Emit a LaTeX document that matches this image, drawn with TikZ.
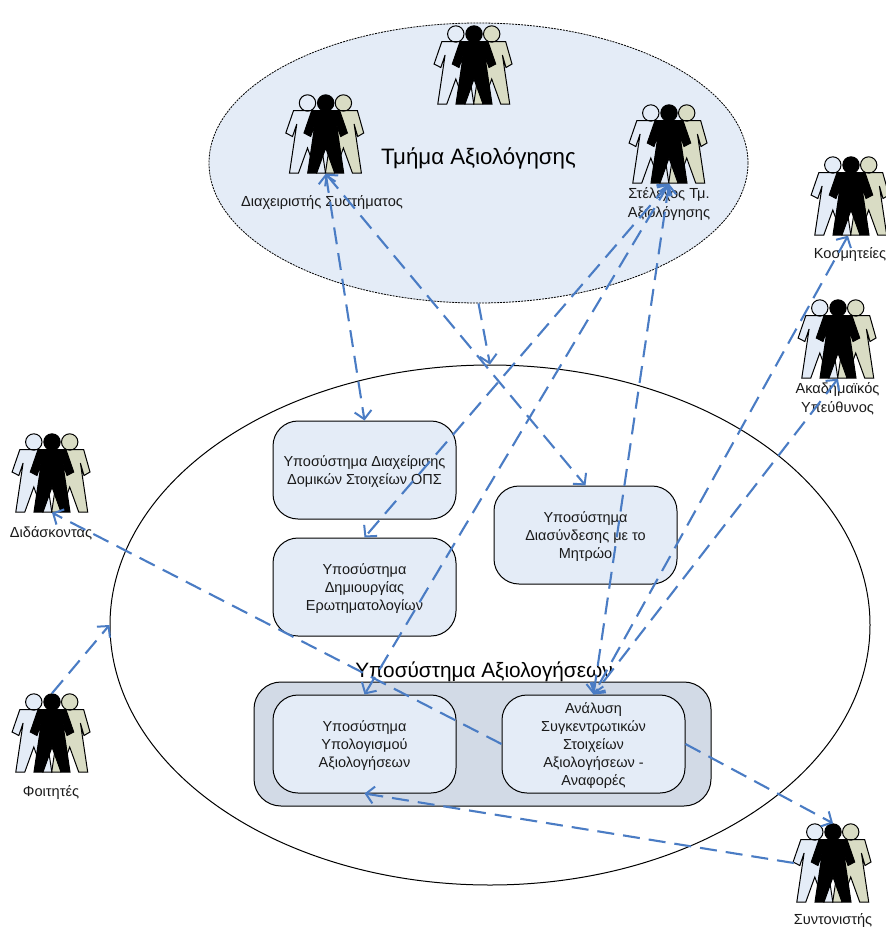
\documentclass[tikz,border=0pt]{standalone}
\usepackage{fontspec}
\setmainfont{Liberation Sans}
\usetikzlibrary{arrows.meta,shapes.geometric}
\definecolor{lightfill}{HTML}{E4ECF7}
\definecolor{midfill}{HTML}{D2DAE6}
\definecolor{olivefill}{HTML}{D9DCC4}
\definecolor{linkblue}{HTML}{4A7CC4}
\definecolor{inktext}{HTML}{1A1A1A}
\newcommand{\tfirst}{\rule{0pt}{14pt}}
\tikzset{
  boxnode/.style={draw=black,line width=1pt,fill=lightfill,rounded corners=25pt,minimum width=183pt,minimum height=98pt,inner sep=0pt,align=center,text=inktext,font=\fontsize{14.5pt}{17.8pt}\selectfont},
  labeltext/.style={align=center,text=inktext,inner sep=0pt,font=\fontsize{14.6pt}{18.6pt}\selectfont},
  bigtext/.style={text=black,inner sep=0pt},
  personbox/.style={minimum width=78pt,minimum height=79pt,inner sep=0pt},
  link/.style={draw=linkblue,line width=2.1pt,dash pattern=on 17pt off 9pt},
  uni/.style={link,-{Straight Barb[length=8pt,width=17pt,line width=2pt]}},
  bi/.style={link,{Straight Barb[length=8pt,width=17pt,line width=2pt]}-{Straight Barb[length=8pt,width=17pt,line width=2pt]}},
}
\newcommand{\figperson}[3]{%
  \begin{scope}[shift={(#2,#3)}]
    \path[draw=black,line width=1pt,fill=lightfill]
      (-18.2,0) circle[radius=8.2]
      (-32.2,7.7) -- (-39.9,30) -- (-33.2,33.5) -- (-28.9,21) -- (-36.2,70) -- (-27.2,70) -- (-18.2,45)
      -- (-9.2,70) -- (-0.2,70) -- (-7.5,21) -- (-3.2,33.5) -- (3.5,30) -- (-4.2,7.7) -- cycle;
    \path[draw=black,line width=1pt,fill=olivefill]
      (17.7,0) circle[radius=8.2]
      (3.7,7.7) -- (-4,30) -- (2.7,33.5) -- (7,21) -- (-0.3,70) -- (8.7,70) -- (17.7,45)
      -- (26.7,70) -- (35.7,70) -- (28.4,21) -- (32,33.5) -- (38,30) -- (31.7,7.7) -- cycle;
    \path[draw=black,line width=1pt,fill=black]
      (0,0) circle[radius=8.2]
      (-14,7.7) -- (-21.7,30) -- (-15,33.5) -- (-10.7,21) -- (-18,70) -- (-9,70) -- (0,45)
      -- (9,70) -- (18,70) -- (10.7,21) -- (15,33.5) -- (21.7,30) -- (14,7.7) -- cycle;
    \node[personbox] (#1) at (0,31) {};
  \end{scope}}
\begin{document}
\begin{tikzpicture}[x=1pt,y=-1pt]
\useasboundingbox (0,0) rectangle (886,927);
% containers
\node[ellipse,draw=black,line width=0.8pt,dash pattern=on 2pt off 1pt,fill=lightfill,minimum width=539pt,minimum height=280pt,inner sep=0pt] (dept) at (478.5,163) {};
\node[ellipse,draw=black,line width=1pt,fill=white,minimum width=760pt,minimum height=520pt,inner sep=0pt] (big) at (490,625) {};
\node[draw=black,line width=1pt,fill=midfill,rounded corners=27pt,minimum width=457pt,minimum height=124pt,inner sep=0pt] (group) at (482.5,744) {};
% boxes
\node[boxnode] (structure) at (364.5,470) {\tfirst Υποσύστημα Διαχείρισης\\Δομικών Στοιχείων ΟΠΣ};
\node[boxnode] (questionnaire) at (364.5,587) {\tfirst Υποσύστημα\\Δημιουργίας\\Ερωτηματολογίων};
\node[boxnode] (registry) at (585.5,535) {\tfirst Υποσύστημα\\Διασύνδεσης με το\\Μητρώο};
\node[boxnode] (compute) at (364.5,744) {\tfirst Υποσύστημα\\Υπολογισμού\\Αξιολογήσεων};
\node[boxnode] (report) at (593.5,744) {\tfirst Ανάλυση\\Συγκεντρωτικών\\Στοιχείων\\Αξιολογήσεων -\\Αναφορές};
% big labels
\node[bigtext,font=\fontsize{22.3pt}{26pt}\selectfont] (deptlabel) at (478.5,158.5) {Τμήμα Αξιολόγησης};
\node[bigtext,font=\fontsize{20.8pt}{24pt}\selectfont] (biglabel) at (484,672) {Υποσύστημα Αξιολογήσεων};
% people
\figperson{pmid}{474}{34}
\figperson{admin}{325.7}{103}
\figperson{staff}{669}{113}
\figperson{deans}{851}{165}
\figperson{acad}{838}{308}
\figperson{teacher}{52}{442}
\figperson{student}{52}{702}
\figperson{coord}{833}{832}
% person labels
\node[labeltext] (ladmin) at (322,202.5) {Διαχειριστής Συστήματος};
\node[labeltext] (lstaff) at (669,204) {Στέλεχος Τμ.\\Αξιολόγησης};
\node[labeltext] (ldeans) at (850,255) {Κοσμητείες};
\node[labeltext] (lacad) at (837.5,398.5) {Ακαδημαϊκός\\Υπεύθυνος};
\node[labeltext] (lteacher) at (51,533) {Διδάσκοντας};
\node[labeltext] (lstudent) at (51,792.5) {Φοιτητές};
\node[labeltext] (lcoord) at (833,920.5) {Συντονιστής};
% connectors
\draw[bi] (admin.south) -- (structure.north);
\draw[bi] (admin.south) -- (registry.north);
\draw[uni] (dept.south) -- (big.north);
\draw[bi] (staff.south) -- (questionnaire.north);
\draw[bi] (staff.south) -- (compute.north);
\draw[bi] (staff.south) -- (report.north);
\draw[bi] ([xshift=-3pt]deans.south) -- (report.north);
\draw[bi] (acad.south) -- (report.north);
\draw[uni] (report.west) -- (teacher.south);
\draw[uni] (student.north) -- (big.west);
\draw[uni] (report.east) -- (coord.north);
\draw[uni] (coord.west) -- (compute.south);
\end{tikzpicture}
\end{document}
